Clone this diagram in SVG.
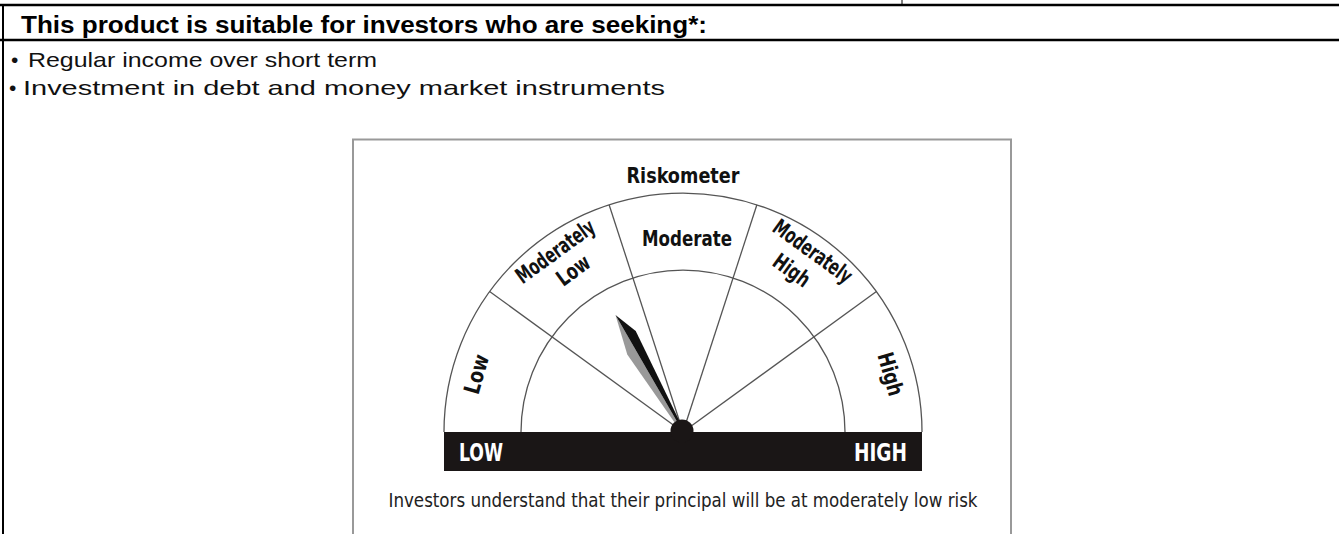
<svg xmlns="http://www.w3.org/2000/svg" width="1339" height="534" viewBox="0 0 1339 534">
<style>
.rule{stroke:#000;stroke-width:2.5;fill:none}
.hdr{font-family:"Liberation Sans",Arial,sans-serif;font-weight:bold;font-size:23px;fill:#000}
.body{font-family:"Liberation Sans",Arial,sans-serif;font-size:21px;fill:#111}
.g{stroke:#555;stroke-width:1.3;fill:none}
.lab{font-family:"DejaVu Sans Condensed","Liberation Sans Narrow","Liberation Sans",Arial,sans-serif;font-weight:bold;font-size:22px;fill:#111;text-anchor:middle}
.bar{font-family:"DejaVu Sans Condensed","Liberation Sans Narrow","Liberation Sans",Arial,sans-serif;font-weight:bold;font-size:24px;fill:#fff}
.cap{font-family:"DejaVu Sans Condensed","Liberation Sans Narrow","Liberation Sans",Arial,sans-serif;font-size:20px;fill:#222;text-anchor:middle}
</style>
<g id="table">
  <line class="rule" x1="0" y1="5" x2="1339" y2="5"/>
  <line x1="902" y1="0" x2="902" y2="5" stroke="#000" stroke-width="1"/>
  <line class="rule" x1="0" y1="40" x2="1339" y2="40"/>
  <line x1="3" y1="4" x2="3" y2="534" stroke="#000" stroke-width="2"/>
</g>
<g id="header">
  <text class="hdr" x="21" y="33" textLength="686" lengthAdjust="spacingAndGlyphs">This product is suitable for investors who are seeking*:</text>
</g>
<g id="bullets">
  <text class="body" x="11" y="67">•</text>
  <text class="body" x="28" y="67" textLength="349" lengthAdjust="spacingAndGlyphs">Regular income over short term</text>
  <text class="body" x="9" y="95">•</text>
  <text class="body" x="23" y="95" textLength="642" lengthAdjust="spacingAndGlyphs">Investment in debt and money market instruments</text>
</g>
<g id="riskometer">
  <rect x="353" y="139.5" width="658" height="420" fill="#fff" stroke="#999" stroke-width="2"/>
  <text class="lab" x="683" y="183" textLength="113" lengthAdjust="spacingAndGlyphs">Riskometer</text>
  <g id="dial">
    <path class="g" d="M444,432 A239,239 0 0 1 922,432"/>
    <path class="g" d="M521,432 A162,162 0 0 1 845,432"/>
    <line class="g" x1="683" y1="432" x2="489.6" y2="291.5"/>
    <line class="g" x1="683" y1="432" x2="609.1" y2="204.7"/>
    <line class="g" x1="683" y1="432" x2="756.9" y2="204.7"/>
    <line class="g" x1="683" y1="432" x2="876.4" y2="291.5"/>
  </g>
  <g id="labels">
    <text class="lab" transform="translate(476,374) rotate(-74)" dy="8" textLength="40" lengthAdjust="spacingAndGlyphs">Low</text>
    <text class="lab" transform="translate(555,251) rotate(-36)" dy="8" textLength="92" lengthAdjust="spacingAndGlyphs">Moderately</text>
    <text class="lab" transform="translate(573,270) rotate(-36)" dy="8" textLength="36" lengthAdjust="spacingAndGlyphs">Low</text>
    <text class="lab" transform="translate(687,238)" dy="8" textLength="90" lengthAdjust="spacingAndGlyphs">Moderate</text>
    <text class="lab" transform="translate(813,251) rotate(36)" dy="8" textLength="92" lengthAdjust="spacingAndGlyphs">Moderately</text>
    <text class="lab" transform="translate(792,270) rotate(36)" dy="8" textLength="40" lengthAdjust="spacingAndGlyphs">High</text>
    <text class="lab" transform="translate(891,374) rotate(74)" dy="8" textLength="44" lengthAdjust="spacingAndGlyphs">High</text>
  </g>
  <g id="needle" transform="translate(683,432) rotate(-30)">
    <polygon points="0,-135 -9.5,-95 -2,-6 0,0" fill="#999"/>
    <polygon points="0,-135 9.5,-111 2,-6 0,0" fill="#111"/>
  </g>
  <rect x="444" y="432" width="478" height="39" fill="#1a1616"/>
  <circle cx="682" cy="431" r="11.5" fill="#1a1616"/>
  <text class="bar" x="459" y="461" textLength="44" lengthAdjust="spacingAndGlyphs">LOW</text>
  <text class="bar" x="907" y="461" text-anchor="end" textLength="53" lengthAdjust="spacingAndGlyphs">HIGH</text>
  <text class="cap" x="683" y="507" textLength="589" lengthAdjust="spacingAndGlyphs">Investors understand that their principal will be at moderately low risk</text>
</g>
</svg>
